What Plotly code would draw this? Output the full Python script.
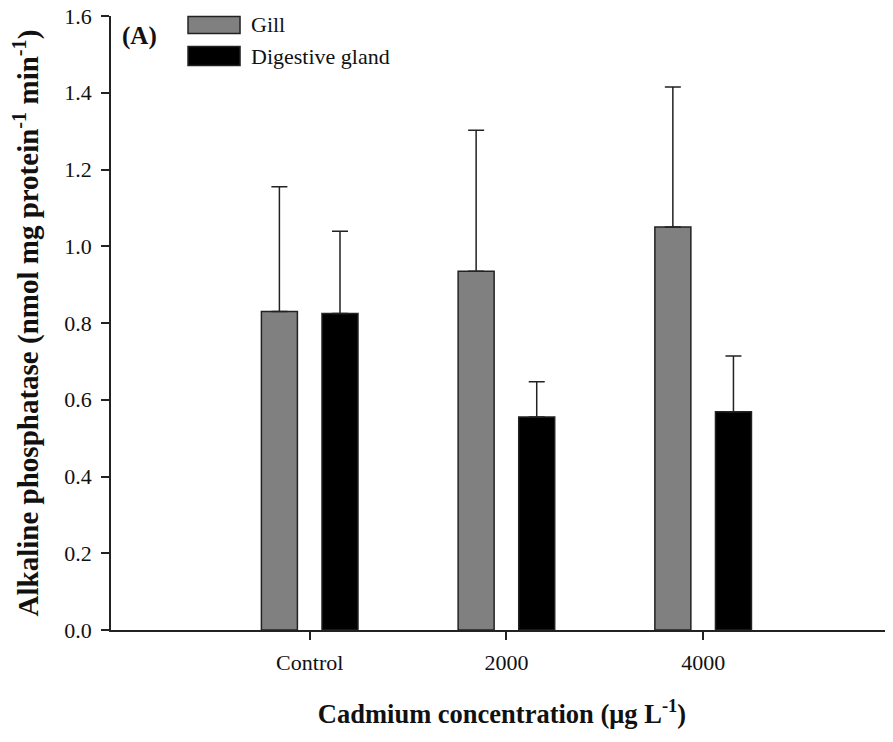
import plotly.graph_objects as go

# data
groups = ["Control", "2000", "4000"]
series_names = ["Gill", "Digestive gland"]
gill_mean = [0.83, 0.935, 1.05]
gill_sem = [0.325, 0.367, 0.365]
dg_mean = [0.825, 0.555, 0.569]
dg_sem = [0.214, 0.092, 0.145]

FONT = "Liberation Serif"
AXIS_COL = "#222222"

traces = []
for name, mean, sem, col in [(series_names[0], gill_mean, gill_sem, "#808080"),
                             (series_names[1], dg_mean, dg_sem, "#000000")]:
    traces.append(go.Bar(x=groups, y=mean, name=name,
                         marker=dict(color=col, line=dict(color=AXIS_COL, width=1.5)),
                         error_y=dict(type="data", symmetric=False, array=sem,
                                      arrayminus=[0] * len(sem),
                                      color=AXIS_COL, thickness=1.5, width=8),
                         showlegend=False))

fig = go.Figure(data=traces)

# page body adds 8px around the figure, so the figure is 8px smaller
fig.update_layout(
    width=885, height=734,
    margin=dict(l=103, r=0, t=8, b=112),
    paper_bgcolor="white", plot_bgcolor="white",
    barmode="group", bargap=0.384, bargroupgap=0.406,
    font=dict(family=FONT, color="#111111", size=22),
)

fig.update_xaxes(
    type="category", range=[-1.01, 2.965],
    showline=True, linecolor=AXIS_COL, linewidth=1.5,
    ticks="outside", ticklen=8, tickwidth=1.5, tickcolor=AXIS_COL,
    tickfont=dict(family=FONT, size=22), ticklabelstandoff=4,
    showgrid=False, zeroline=False,
    title=dict(text="<b>Cadmium concentration (μg L<sup>-1</sup>)</b>",
               font=dict(family=FONT, size=26.5), standoff=30),
)
fig.update_yaxes(
    range=[0, 1.6], dtick=0.2, tickformat=".1f",
    showline=True, linecolor=AXIS_COL, linewidth=1.5,
    ticks="outside", ticklen=8, tickwidth=1.5, tickcolor=AXIS_COL,
    tickfont=dict(family=FONT, size=22), ticklabelstandoff=5,
    ticklabeloverflow="allow", automargin="left",
    showgrid=False, zeroline=False,
    title=dict(text="<b>Alkaline phosphatase (nmol mg protein<sup>-1</sup> min<sup>-1</sup>)</b>",
               font=dict(family=FONT, size=29), standoff=24),
)

# legend drawn by hand so the swatches are wide boxes like the original
swatch_cols = ["#808080", "#000000"]
rows_y = [(0.9715, 0.9992), (0.9193, 0.9503)]
for name, col, (y0, y1) in zip(series_names, swatch_cols, rows_y):
    fig.add_shape(type="rect", xref="paper", yref="paper",
                  x0=0.0985, x1=0.165, y0=y0, y1=y1,
                  fillcolor=col, line=dict(color=AXIS_COL, width=1.5))
    fig.add_annotation(xref="paper", yref="paper", x=0.177, y=(y0 + y1) / 2,
                       text=name, showarrow=False, xanchor="left", yanchor="middle",
                       font=dict(family=FONT, size=22))

fig.add_annotation(xref="paper", yref="paper", x=0.011, y=0.967,
                   text="<b>(A)</b>", showarrow=False, xanchor="left", yanchor="middle",
                   font=dict(family=FONT, size=25))

fig.write_html("out.html")
